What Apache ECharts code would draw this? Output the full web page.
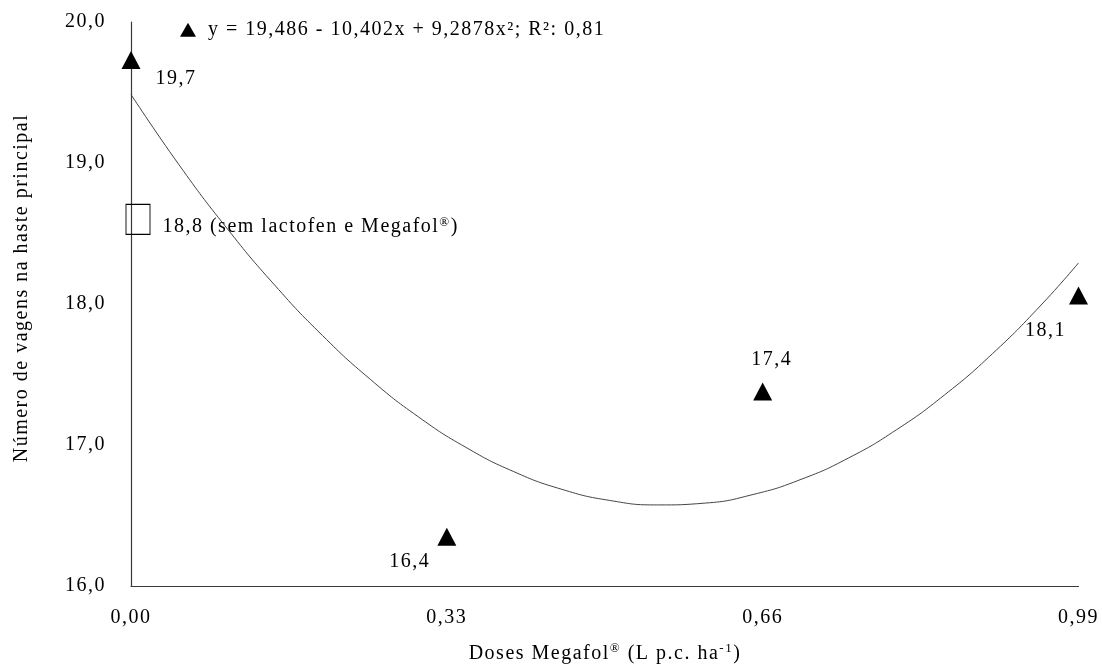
<!DOCTYPE html>
<html><head><meta charset="utf-8">
<script src="https://cdn.jsdelivr.net/npm/echarts@6/dist/echarts.min.js"></script>
<style>html,body{margin:0;padding:0;background:#fff}#c{width:1102px;height:667px}</style>
</head><body><div id="c"></div>
<script>
// ---- data ----
const xTicks = [0, 0.33, 0.66, 0.99];
const yTicks = [16, 17, 18, 19, 20];
const doseX = [0, 0.33, 0.66, 0.99];
const podsY = [19.73, 16.35, 17.38, 18.06];
const podLabels = ['19,7', '16,4', '17,4', '18,1'];
const controlX = [0];
const controlY = [18.6];
const controlLabel = '18,8 (sem lactofen e Megafol';
const curveX = [0, 0.05, 0.1, 0.15, 0.2, 0.25, 0.3, 0.35, 0.4, 0.45, 0.5, 0.55, 0.6, 0.65, 0.7, 0.75, 0.8, 0.85, 0.9, 0.95, 0.99];
const curveY = [19.486, 18.989, 18.539, 18.135, 17.777, 17.466, 17.201, 16.983, 16.811, 16.686, 16.607, 16.575, 16.588, 16.649, 16.756, 16.909, 17.109, 17.355, 17.647, 17.986, 18.291];
const legendText = 'y = 19,486 - 10,402x + 9,2878x²; R²: 0,81';
const yTitle = 'Número de vagens na haste principal';
const xTitle = 'Doses Megafol';

// ---- text spacing (visual style of reference) ----
(function(){
  const LS = '1.5px';
  const P = CanvasRenderingContext2D.prototype;
  const ft = P.fillText, mt = P.measureText;
  P.fillText = function(){ try{ this.letterSpacing = LS; }catch(e){} return ft.apply(this, arguments); };
  P.measureText = function(){ try{ this.letterSpacing = LS; }catch(e){} return mt.apply(this, arguments); };
})();

const FONT = '"Liberation Serif", "Times New Roman", serif';
const FS = 20;
const labelOffsets = [[45, 19], [-37, 25], [9, -32], [-33, 35]];

const chart = echarts.init(document.getElementById('c'), null, {renderer: 'canvas'});
chart.setOption({
  animation: false,
  backgroundColor: '#fff',
  textStyle: {fontFamily: FONT, color: '#000'},
  grid: {left: 131, right: 21, top: 22, bottom: 81, containLabel: false},
  legend: {
    left: 175, top: 14, itemWidth: 16, itemHeight: 14, itemGap: 0,
    icon: 'triangle',
    data: [legendText],
    itemStyle: {opacity: 1},
    textStyle: {fontFamily: FONT, fontSize: FS, color: '#000', padding: [0, 0, 0, 7]},
    selectedMode: false
  },
  xAxis: {
    type: 'value', min: xTicks[0], max: xTicks[xTicks.length - 1], interval: xTicks[1] - xTicks[0],
    axisLine: {show: true, onZero: false, lineStyle: {color: '#3a3a3a', width: 1.2}},
    axisTick: {show: false}, splitLine: {show: false},
    axisLabel: {margin: 21, fontFamily: FONT, fontSize: FS, color: '#000', showMaxLabel: true, showMinLabel: true,
      formatter: v => v.toFixed(2).replace('.', ',')}
  },
  yAxis: {
    type: 'value', min: yTicks[0], max: yTicks[yTicks.length - 1], interval: yTicks[1] - yTicks[0],
    axisLine: {show: true, onZero: false, lineStyle: {color: '#3a3a3a', width: 1.2}},
    axisTick: {show: false}, splitLine: {show: false},
    axisLabel: {margin: 25, fontFamily: FONT, fontSize: FS, color: '#000',
      formatter: v => v.toFixed(1).replace('.', ',')}
  },
  graphic: [
    {type: 'text', x: 22, y: 288, rotation: Math.PI / 2,
      style: {text: yTitle, font: FS + 'px ' + FONT, fill: '#000', align: 'center', verticalAlign: 'middle'}},
    {type: 'text', x: 605, y: 653,
      style: {text: '{a|' + xTitle + '}{s|®}{a| (L p.c. ha}{s|-1}{a|)}', align: 'center', verticalAlign: 'middle',
        rich: {a: {fontFamily: FONT, fontSize: FS, fill: '#000', verticalAlign: 'bottom'},
               s: {fontFamily: FONT, fontSize: 13, fill: '#000', verticalAlign: 'top', padding: [0, 0, 8, 0]}}}}
  ],
  series: [
    {
      type: 'line', name: 'curve', data: curveX.map((x, i) => [x, curveY[i]]),
      smooth: true, showSymbol: false, silent: true,
      lineStyle: {color: '#444', width: 1}, z: 1
    },
    {
      type: 'scatter', name: legendText, symbol: 'triangle', symbolSize: [19, 18],
      itemStyle: {color: '#000', opacity: 1}, z: 3,
      data: doseX.map((x, i) => ({
        value: [x, podsY[i]],
        label: {show: true, position: 'inside', offset: labelOffsets[i], formatter: podLabels[i],
          fontFamily: FONT, fontSize: FS, color: '#000'}
      }))
    },
    {
      type: 'scatter', name: 'control', symbol: 'rect', symbolSize: [24, 30], symbolOffset: [7, 0],
      itemStyle: {color: 'rgba(0,0,0,0)', borderColor: '#000', borderWidth: 1, opacity: 1}, z: 2,
      data: controlX.map((x, i) => [x, controlY[i]]),
      label: {show: true, position: 'right', distance: 12, offset: [0, 7],
        formatter: '{a|' + controlLabel + '}{s|®}{a|)}',
        rich: {a: {fontFamily: FONT, fontSize: FS, color: '#000', verticalAlign: 'bottom'},
               s: {fontFamily: FONT, fontSize: 13, color: '#000', verticalAlign: 'top', padding: [0, 0, 8, 0]}}}
    }
  ]
});
</script>
</body></html>
